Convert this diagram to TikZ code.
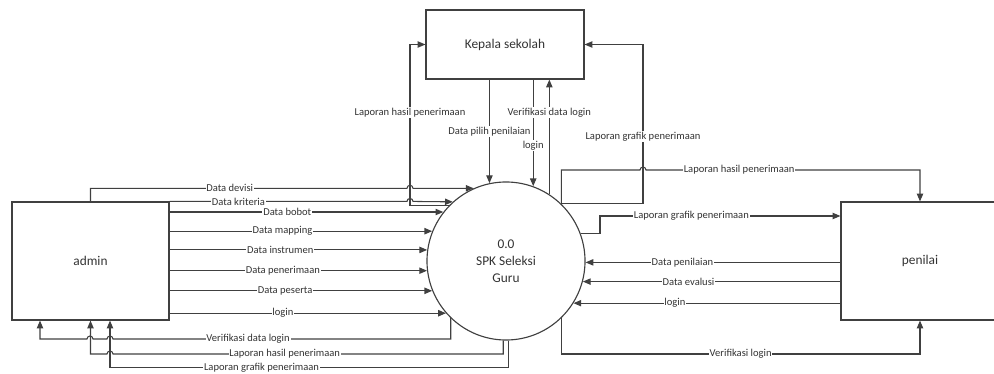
\documentclass[tikz,border=0pt]{standalone}
\usepackage{fontspec}
\setmainfont{Carlito}
\usetikzlibrary{arrows.meta}

\begin{document}
\begin{tikzpicture}[x=0.025cm,y=-0.025cm,
  every node/.style={text=black!80},
  box/.style={draw=black!75,line width=0.8pt,font=\fontsize{9.5}{12}\selectfont},
  flow/.style={draw=black!75,line width=0.75pt,-{Triangle[length=5.5pt,width=4.5pt]}},
  lbl/.style={fill=white,inner sep=0.6pt,font=\fontsize{7.5}{9}\selectfont}]

 \useasboundingbox (0,0) rectangle (994,374);
 \clip (0,0) rectangle (994,374);

 \draw (505,44.5) node[box,minimum width=3.95cm,minimum height=1.725cm] (kep)
              {Kepala sekolah};

 \draw (90.5,261) node[box,minimum width=3.925cm,minimum height=2.95cm] (adm)
              {admin};

 \draw (920,261) node[box,minimum width=3.95cm,minimum height=2.95cm] (pen)
              {penilai};

 \draw (506,261) node[box,circle,minimum size=3.95cm,inner sep=0pt,align=center] (spk)
              {0.0\\SPK Seleksi\\Guru};

 % admin -> proses
 \draw[flow] (adm.north) |- (407,0 |- spk.114) node[lbl,pos=0.72] {Data devisi}
    arc[start angle=180,end angle=360,radius=3] -- (spk.114);

 \draw[flow] (adm.north east) -- (407,0 |- adm.north east) node[lbl,pos=0.29] {Data kriteria}
    arc[start angle=180,end angle=360,radius=3] -- (spk.132);

 \draw[flow] (adm.east |- spk.142) -- (spk.142) node[lbl,pos=0.43] {Data bobot};
 \draw[flow] (adm.east |- spk.158) -- (spk.158) node[lbl,pos=0.43] {Data mapping};
 \draw[flow] (adm.east |- spk.172) -- (spk.172) node[lbl,pos=0.43] {Data instrumen};
 \draw[flow] (adm.east |- spk.187) -- (spk.187) node[lbl,pos=0.44] {Data penerimaan};
 \draw[flow] (adm.east |- spk.202) -- (spk.202) node[lbl,pos=0.44] {Data peserta};
 \draw[flow] (adm.east |- spk.221) -- (spk.221) node[lbl,pos=0.41] {login};

 % proses -> admin
 \draw[flow] (spk.226) |- (113,339) node[lbl,pos=0.8] {Verifikasi data login}
    arc[start angle=0,end angle=-180,radius=3] -- (93,339)
    arc[start angle=0,end angle=-180,radius=3] -| (40,0 |- adm.south);

 \draw[flow] (spk.268) |- (113,354) node[lbl,pos=0.78] {Laporan hasil penerimaan}
    arc[start angle=0,end angle=-180,radius=3] -| (adm.south);

 \draw[flow] (spk.272) |- (110,367.5) node[lbl,pos=0.81] {Laporan grafik penerimaan}
    -- (110,0 |- adm.south);

 % kepala sekolah
 \draw[flow] (spk.136) -| (410,0 |- kep.west) node[lbl,pos=0.79] {Laporan hasil penerimaan}
    -- (kep.west);

 \draw[flow] (spk.102 |- kep.south) -- (spk.102) node[lbl,midway] {Data pilih penilaian};
 \draw[flow] (spk.70 |- kep.south) -- (spk.70) node[lbl,pos=0.62] {login};
 \draw[flow] (spk.57) -- (spk.57 |- kep.south) node[lbl,pos=0.71] {Verifikasi data login};

 \draw[flow] (spk.46) -| (643,0 |- kep.east) node[lbl,pos=0.71] {Laporan grafik penerimaan}
    -- (kep.east);

 % penilai
 \draw[flow] (spk.46) |- (640,170)
    arc[start angle=180,end angle=360,radius=3] -| (pen.north)
    node[lbl,pos=0.17] {Laporan hasil penerimaan};

 \draw[flow] (spk.20) -- (600,0 |- spk.20) |- (pen.west |- 0,216)
    node[lbl,pos=0.69] {Laporan grafik penerimaan};

 \draw[flow] (pen.west |- spk.359) -- (spk.359) node[lbl,pos=0.62] {Data penilaian};
 \draw[flow] (pen.west |- spk.345) -- (spk.345) node[lbl,pos=0.59] {Data evalusi};
 \draw[flow] (pen.west |- spk.328) -- (spk.328) node[lbl,pos=0.62] {login};

 \draw[flow] (spk.314) -- (spk.314 |- 0,354) -| (pen.south)
    node[lbl,pos=0.25] {Verifikasi login};

\end{tikzpicture}
\end{document}
